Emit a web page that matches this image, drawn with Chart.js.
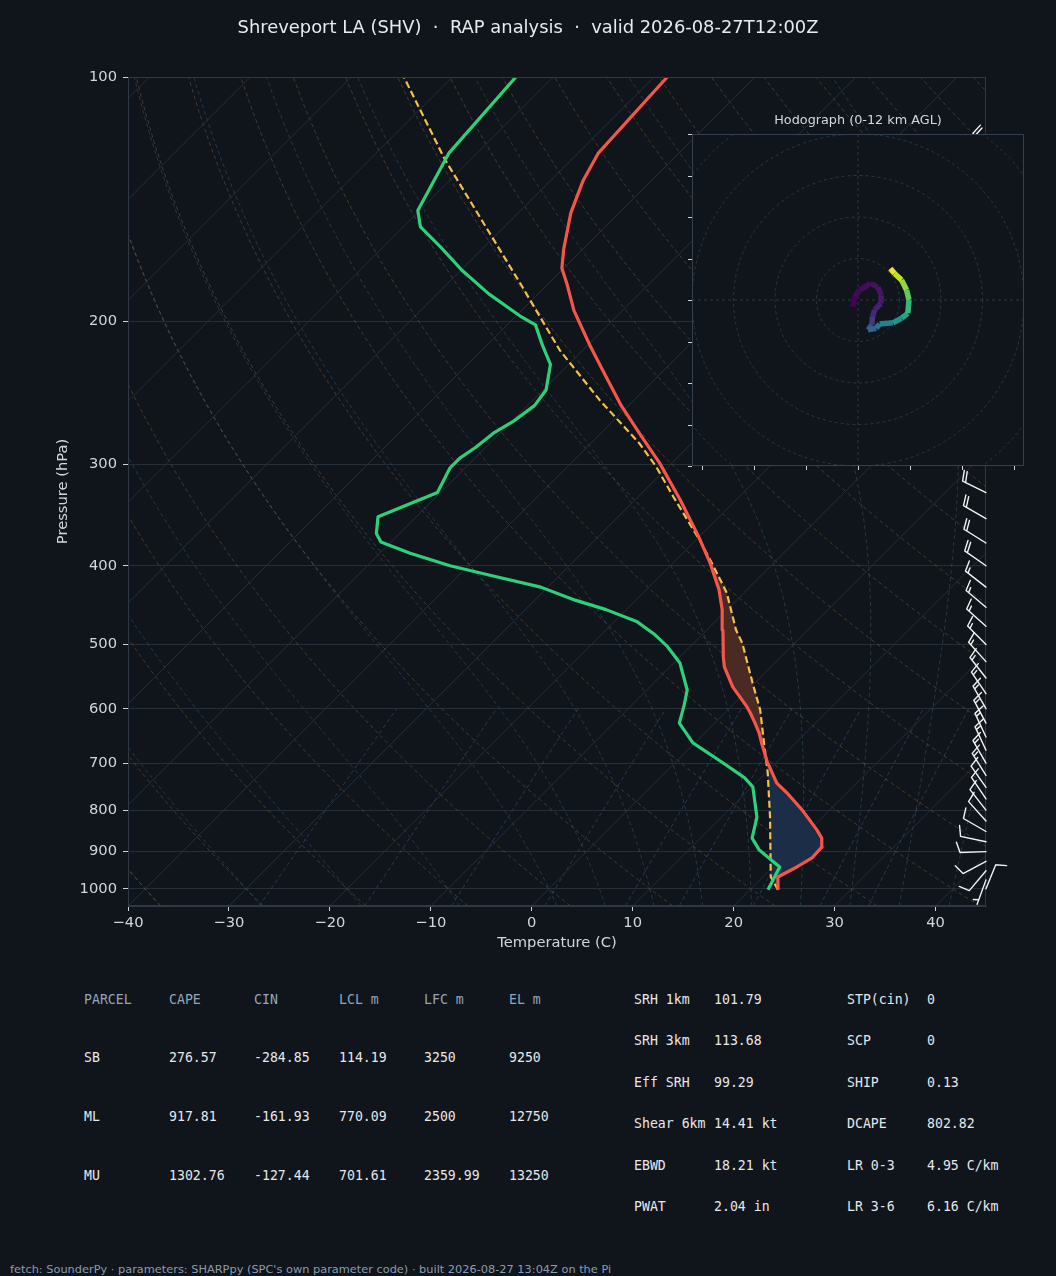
<!DOCTYPE html>
<html>
<head>
<meta charset="utf-8">
<title>Shreveport LA (SHV) sounding</title>
<script src="https://cdn.jsdelivr.net/npm/chart.js@4.4.1/dist/chart.umd.min.js"></script>
<style>
  html, body { margin: 0; padding: 0; background: #10141b; }
  #page { position: relative; width: 1056px; height: 1276px; overflow: hidden; background: #10141b; font-family: 'DejaVu Sans', sans-serif; }
  .txt { position: absolute; white-space: pre; line-height: 20px; height: 20px; }
  .mid { transform: translateX(-50%); }
  .mono { font-family: 'DejaVu Sans Mono', monospace; font-size: 13.2px; color: #e6e8eb; }
  .head { color: #93a6ba; }
  #skewWrap { position: absolute; left: 0; top: 0; width: 1056px; height: 960px; }
  #hodoWrap { position: absolute; left: 680px; top: 120px; width: 360px; height: 360px; }
</style>
</head>
<body>
<div id="page">
  <div id="skewWrap"><canvas id="skewt"></canvas></div>
  <div id="hodoWrap"><canvas id="hodo"></canvas></div>
  <div class="txt mid" style="left:528px; top:17px; font-size:17.9px; color:#e8ebee;">Shreveport LA (SHV)  ·  RAP analysis  ·  valid 2026-08-27T12:00Z</div>
  <div class="txt mid" style="left:858px; top:110px; font-size:12.8px; color:#d5d9de;">Hodograph (0-12 km AGL)</div>
  <div id="tables"></div>
  <div class="txt" style="left:10px; top:1259px; font-size:11.35px; color:#8c9cae;">fetch: SounderPy · parameters: SHARPpy (SPC's own parameter code) · built 2026-08-27 13:04Z on the Pi</div>
</div>
<script>
'use strict';

/* Section 1: data */

// environmental temperature (C) by pressure (hPa)
const tempP = [1003, 967, 940, 916, 888, 866, 846, 800, 762, 741, 708, 700, 661, 643, 625, 607, 597, 564, 533, 518, 480, 453, 428, 397, 368, 332, 299, 276, 254, 233, 214, 194, 180, 172, 163, 147, 134, 124, 100];
const tempC = [22.8, 21.5, 22.4, 23.0, 22.9, 22.0, 20.7, 17.3, 14.1, 12.1, 9.8, 9.2, 6.6, 5.4, 4.0, 2.5, 1.6, -1.8, -4.6, -5.7, -8.4, -10.5, -12.8, -16.3, -20.1, -25.5, -31.2, -35.9, -40.7, -45.3, -49.8, -54.8, -58.1, -60.2, -61.9, -64.8, -66.8, -68.0, -68.7];

// dewpoint (C)
const dewP = [1003, 940, 896, 866, 816, 749, 730, 700, 661, 625, 594, 569, 527, 502, 485, 469, 453, 441, 425, 411, 400, 386, 374, 365, 348, 325, 303, 295, 286, 274, 265, 254, 243, 226, 214, 202, 197, 185, 173, 162, 153, 146, 124, 100];
const dewC = [21.8, 20.7, 17.0, 15.1, 13.5, 10.1, 8.4, 4.8, -0.2, -3.5, -4.8, -6.0, -9.4, -12.4, -14.9, -17.7, -22.0, -26.0, -30.7, -36.9, -41.8, -47.0, -51.0, -52.3, -53.8, -50.3, -51.5, -51.5, -51.0, -50.6, -49.8, -49.3, -49.7, -51.8, -54.5, -57.2, -59.6, -64.9, -69.9, -74.3, -78.3, -80.2, -82.8, -83.7];

// surface parcel path (C)
const parcelP = [1003, 967, 816, 720, 674, 602, 558, 498, 480, 432, 401, 372, 329, 302, 283, 250, 217, 179, 126.5, 100];
const parcelC = [22.8, 20.8, 14.8, 10.2, 7.6, 3.2, -0.2, -5.2, -7.1, -11.7, -15.6, -19.6, -26.5, -31.2, -35.1, -43.4, -52.3, -63.0, -82.5, -94.8];

// shaded layers (hPa): CIN below the LFC, CAPE from LFC to EL
const cinLayer = [1003, 674];
const capeLayer = [674, 368];

// wind barbs
const windP = [1000, 975, 950, 925, 900, 875, 850, 825, 800, 775, 750, 725, 700, 675, 650, 625, 600, 575, 550, 525, 500, 475, 450, 425, 400, 375, 350, 325, 300, 275, 250, 225, 200, 175, 150, 125];
const windDir = [22, 200, 220, 242, 268, 282, 300, 318, 322, 326, 325, 328, 330, 335, 335, 332, 330, 326, 322, 318, 315, 312, 310, 308, 305, 302, 300, 296, 295, 290, 300, 310, 315, 320, 325, 330];
const windSpd = [10, 5, 10, 10, 10, 10, 10, 10, 10, 10, 10, 15, 15, 15, 15, 15, 15, 15, 15, 15, 15, 15, 15, 15, 20, 20, 20, 20, 20, 20, 20, 20, 20, 20, 20, 20];

// hodograph (u, v) and height km AGL
const hodoU = [-1.2, -0.8, 0.4, 3.0, 4.8, 5.6, 5.5, 4.0, 3.5, 3.3, 2.4, 4.4, 5.2, 8.4, 10.5, 12.0, 12.3, 11.7, 10.5, 8.8, 7.8];
const hodoV = [-1.6, 0.8, 2.4, 4.0, 3.1, 1.2, -0.8, -2.4, -4.0, -6.0, -7.2, -6.8, -5.8, -5.5, -4.4, -3.2, 0.0, 2.4, 4.8, 6.4, 7.6];
const hodoH = [0, 0.15, 0.3, 0.45, 0.6, 0.75, 0.9, 1.1, 1.5, 2.5, 3.5, 4.2, 4.8, 5.6, 6.5, 7.4, 8.4, 9.6, 10.5, 11.3, 12];

// axes and background lines
const pressureTicks = [100, 200, 300, 400, 500, 600, 700, 800, 900, 1000];
const tempTicks = [-40, -30, -20, -10, 0, 10, 20, 30, 40];
const isotherms = [-120, -110, -100, -90, -80, -70, -60, -50, -40, -30, -20, -10, 0, 10, 20, 30, 40];
const dryAdiabatStarts = [-40, -30, -20, -10, 0, 10, 20, 30, 40, 50, 60, 70, 80, 90, 100, 110, 120, 130, 140, 150, 160, 170, 180, 190, 200, 210, 220, 230, 240];
const moistAdiabatStarts = [-40, -30, -20, -10, 0, 5, 10, 15, 20, 25, 30, 35, 40, 45];
const mixingRatios = [0.0004, 0.001, 0.002, 0.004, 0.007, 0.01, 0.016, 0.024, 0.032];
const hodoRings = [10, 20, 30, 40, 50];
const hodoYTicks = [-40, -30, -20, -10, 0, 10, 20, 30, 40];
const hodoXTicks = [-37.5, -25, -12.5, 0, 12.5, 25, 37.5];

// parameter tables
const tableHead = ['PARCEL', 'CAPE', 'CIN', 'LCL m', 'LFC m', 'EL m'];
const parcelRows = [
    ['SB', '276.57', '-284.85', '114.19', '3250', '9250'],
    ['ML', '917.81', '-161.93', '770.09', '2500', '12750'],
    ['MU', '1302.76', '-127.44', '701.61', '2359.99', '13250']
];
const kinematicRows = [['SRH 1km', '101.79'], ['SRH 3km', '113.68'], ['Eff SRH', '99.29'], ['Shear 6km', '14.41 kt'], ['EBWD', '18.21 kt'], ['PWAT', '2.04 in']];
const compositeRows = [['STP(cin)', '0'], ['SCP', '0'], ['SHIP', '0.13'], ['DCAPE', '802.82'], ['LR 0-3', '4.95 C/km'], ['LR 3-6', '6.16 C/km']];


/* Section 2: helpers */

const BG = '#10141b';
const P_BOT = 1050, P_TOP = 100, T_MIN = -40, T_MAX = 45;
const PLOT_W = 858, PLOT_H = 829;
// 45 degree isotherms on the plot
const SKEW = (PLOT_H / Math.log(P_BOT / P_TOP)) / (PLOT_W / (T_MAX - T_MIN));
const RD = 287.04749, LV = 2.50084e6, CPD = 1004.6662, EPS = 0.621957;

const skewX = (t, p) => t + SKEW * Math.log(P_BOT / p);

function profile(pArr, tArr) {
    return pArr.map((p, i) => ({x: skewX(tArr[i], p), y: p}));
}

function tempAt(pArr, tArr, p) {
    for (let i = 0; i < pArr.length - 1; i++) {
        if (p <= pArr[i] && p >= pArr[i + 1]) {
            const f = Math.log(pArr[i] / p) / Math.log(pArr[i] / pArr[i + 1]);
            return tArr[i] + f * (tArr[i + 1] - tArr[i]);
        }
    }
    return tArr[tArr.length - 1];
}

// closed outline between two profiles over a pressure layer
function layerShape(pA, tA, pB, tB, layer) {
    const [pLow, pHigh] = layer;
    const side = (pArr, tArr) => {
        const pts = [{p: pLow, t: tempAt(pArr, tArr, pLow)}];
        pArr.forEach((p, i) => { if (p < pLow && p > pHigh) pts.push({p, t: tArr[i]}); });
        pts.push({p: pHigh, t: tempAt(pArr, tArr, pHigh)});
        return pts;
    };
    return side(pA, tA).concat(side(pB, tB).reverse()).map(o => ({x: skewX(o.t, o.p), y: o.p}));
}

function dryAdiabat(t0) {
    const pts = [];
    for (let p = P_BOT; p >= P_TOP; p -= 10) {
        const t = (t0 + 273.15) * Math.pow(p / 1000, RD / CPD) - 273.15;
        pts.push({x: skewX(t, p), y: p});
    }
    return pts;
}

function moistRate(p, tK) {
    const es = 6.112 * Math.exp(17.67 * (tK - 273.15) / (tK - 29.65));
    const rs = EPS * es / (p - es);
    return (RD * tK + LV * rs) / (CPD + LV * LV * rs * EPS / (RD * tK * tK)) / p;
}

function moistAdiabat(t0) {
    const step = (p, t, h) => {
        const k1 = moistRate(p, t);
        const k2 = moistRate(p + h / 2, t + h * k1 / 2);
        const k3 = moistRate(p + h / 2, t + h * k2 / 2);
        const k4 = moistRate(p + h, t + h * k3);
        return t + h * (k1 + 2 * k2 + 2 * k3 + k4) / 6;
    };
    let t = t0 + 273.15;
    for (let p = 1000; p < P_BOT; p += 5) t = step(p, t, 5);
    const pts = [];
    for (let p = P_BOT; p >= P_TOP; p -= 5) {
        pts.push({x: skewX(t - 273.15, p), y: p});
        t = step(p, t, -5);
    }
    return pts;
}

function mixingLine(w) {
    const pts = [];
    for (let p = P_BOT; p >= 600; p -= 25) {
        const e = w * p / (EPS + w);
        const l = Math.log(e / 6.112);
        pts.push({x: skewX(243.5 * l / (17.67 - l), p), y: p});
    }
    return pts;
}

function guide(points, color, dash) {
    return {data: points, borderColor: color, borderWidth: 1, borderDash: dash,
            pointRadius: 0, fill: false, order: 10};
}

const VIRIDIS = ['#440154', '#482475', '#414487', '#355f8d', '#2a788e', '#21918c', '#22a884', '#44bf70', '#7ad151', '#bddf26', '#fde725'];
function viridis(f) {
    f = Math.min(1, Math.max(0, f)) * (VIRIDIS.length - 1);
    const i = Math.min(Math.floor(f), VIRIDIS.length - 2), r = f - i;
    const a = VIRIDIS[i], b = VIRIDIS[i + 1];
    const ch = (h, k) => parseInt(h.substr(1 + 2 * k, 2), 16);
    const mix = k => Math.round(ch(a, k) + r * (ch(b, k) - ch(a, k)));
    return `rgb(${mix(0)},${mix(1)},${mix(2)})`;
}


/* Section 3: skew-T chart */

Chart.defaults.font.family = "'DejaVu Sans', sans-serif";
Chart.defaults.color = '#d2d7dc';

const datasets = [];
isotherms.forEach(t => datasets.push(guide([{x: skewX(t, P_BOT), y: P_BOT}, {x: skewX(t, P_TOP), y: P_TOP}], '#262e38', [])));
dryAdiabatStarts.forEach(t => datasets.push(guide(dryAdiabat(t), 'rgba(196,146,86,0.30)', [4, 3])));
moistAdiabatStarts.forEach(t => datasets.push(guide(moistAdiabat(t), 'rgba(84,146,172,0.30)', [4, 3])));
mixingRatios.forEach(w => datasets.push(guide(mixingLine(w), 'rgba(86,128,186,0.35)', [4, 3])));

datasets.push({data: layerShape(tempP, tempC, parcelP, parcelC, cinLayer), fill: 'shape',
               backgroundColor: '#1c2d48', borderWidth: 0, pointRadius: 0, order: 5});
datasets.push({data: layerShape(parcelP, parcelC, tempP, tempC, capeLayer), fill: 'shape',
               backgroundColor: '#4a2b24', borderWidth: 0, pointRadius: 0, order: 5});

datasets.push({label: 'parcel', data: profile(parcelP, parcelC), borderColor: '#f4c04b', borderWidth: 2.2,
               borderDash: [7, 3.5], pointRadius: 0, fill: false, order: 2});
datasets.push({label: 'dewpoint', data: profile(dewP, dewC), borderColor: '#2fd07a', borderWidth: 3.2,
               pointRadius: 0, fill: false, order: 1, borderJoinStyle: 'round'});
datasets.push({label: 'temperature', data: profile(tempP, tempC), borderColor: '#f4564a', borderWidth: 3.2,
               pointRadius: 0, fill: false, order: 0, borderJoinStyle: 'round'});

// frame on all four sides plus wind barbs at the right edge
const skewExtras = {
    id: 'skewExtras',
    afterDatasetsDraw(chart) {
        const {ctx, chartArea: a, scales: {y}} = chart;
        ctx.save();
        ctx.strokeStyle = '#2f3946';
        ctx.lineWidth = 1;
        ctx.strokeRect(a.left + 0.5, a.top + 0.5, a.right - a.left - 1, a.bottom - a.top - 1);

        const L = 26, spacing = 0.125 * L, h = 0.4 * L, w = 0.25 * L;
        ctx.strokeStyle = '#f2f3f4';
        ctx.lineWidth = 1.4;
        ctx.lineCap = 'round';
        windP.forEach((p, i) => {
            const x0 = a.right, y0 = y.getPixelForValue(p);
            const d = windDir[i] * Math.PI / 180;
            const sx = Math.sin(d), sy = -Math.cos(d);
            const nx = -sy, ny = sx;
            const spd = Math.round(windSpd[i] / 5) * 5;
            const full = Math.floor(spd / 10);
            const half = spd - full * 10 >= 5;
            ctx.beginPath();
            ctx.moveTo(x0, y0);
            ctx.lineTo(x0 + sx * L, y0 + sy * L);
            let off = L;
            for (let k = 0; k < full; k++) {
                ctx.moveTo(x0 + sx * off, y0 + sy * off);
                ctx.lineTo(x0 + sx * (off + w / 2) + nx * h, y0 + sy * (off + w / 2) + ny * h);
                off -= spacing;
            }
            if (half) {
                if (off === L) off -= 1.5 * spacing;
                ctx.moveTo(x0 + sx * off, y0 + sy * off);
                ctx.lineTo(x0 + sx * (off + w / 4) + nx * h / 2, y0 + sy * (off + w / 4) + ny * h / 2);
            }
            ctx.stroke();
        });
        ctx.restore();
    }
};

new Chart(document.getElementById('skewt'), {
    type: 'line',
    data: {datasets},
    options: {
        animation: false,
        responsive: true,
        maintainAspectRatio: false,
        events: [],
        layout: {padding: {left: 0, right: 70, top: 77, bottom: 0}},
        scales: {
            x: {
                type: 'linear',
                min: T_MIN,
                max: T_MAX,
                afterBuildTicks: scale => { scale.ticks = tempTicks.map(v => ({value: v})); },
                afterFit: scale => { scale.height = 54; },
                grid: {drawOnChartArea: false, drawTicks: true, tickLength: 5, tickColor: '#cfd4da'},
                border: {display: true, color: '#2f3946'},
                ticks: {
                    padding: 3,
                    color: '#d2d7dc',
                    font: {size: 14.7},
                    callback: v => String(v).replace('-', '\u2212')
                },
                title: {display: true, text: 'Temperature (C)', color: '#d2d7dc',
                        font: {size: 14.7}, padding: {top: 0, bottom: 8}}
            },
            y: {
                type: 'logarithmic',
                min: P_TOP,
                max: P_BOT,
                reverse: true,
                afterBuildTicks: scale => { scale.ticks = pressureTicks.map(v => ({value: v})); },
                afterFit: scale => { scale.width = 128; },
                grid: {color: '#262e38', drawTicks: true, tickLength: 5, tickColor: '#cfd4da'},
                border: {display: true, color: '#2f3946'},
                ticks: {
                    padding: 6,
                    color: '#d2d7dc',
                    font: {size: 14.7},
                    callback: v => String(v)
                },
                title: {display: true, text: 'Pressure (hPa)', color: '#d2d7dc',
                        font: {size: 14.7}, padding: {top: 54, bottom: 0}}
            }
        },
        plugins: {
            legend: {display: false},
            tooltip: {enabled: false}
        }
    },
    plugins: [skewExtras]
});


/* Section 4: hodograph inset */

const hodoFurniture = {
    id: 'hodoFurniture',
    beforeDatasetsDraw(chart) {
        const {ctx, chartArea: a, scales: {x, y}} = chart;
        ctx.save();
        ctx.fillStyle = BG;
        ctx.fillRect(a.left, a.top, a.right - a.left, a.bottom - a.top);
        ctx.beginPath();
        ctx.rect(a.left, a.top, a.right - a.left, a.bottom - a.top);
        ctx.clip();
        ctx.strokeStyle = '#2c3743';
        ctx.lineWidth = 1;
        ctx.setLineDash([3, 3]);
        const cx = x.getPixelForValue(0), cy = y.getPixelForValue(0);
        hodoRings.forEach(r => {
            ctx.beginPath();
            ctx.arc(cx, cy, x.getPixelForValue(r) - cx, 0, 2 * Math.PI);
            ctx.stroke();
        });
        ctx.beginPath();
        ctx.moveTo(a.left, cy); ctx.lineTo(a.right, cy);
        ctx.moveTo(cx, a.top); ctx.lineTo(cx, a.bottom);
        ctx.stroke();
        ctx.restore();
    },
    afterDatasetsDraw(chart) {
        const {ctx, chartArea: a, scales: {x, y}} = chart;
        ctx.save();
        ctx.strokeStyle = '#34404d';
        ctx.lineWidth = 1;
        ctx.strokeRect(a.left + 0.5, a.top + 0.5, a.right - a.left - 1, a.bottom - a.top - 1);
        ctx.strokeStyle = '#cfd4da';
        ctx.beginPath();
        hodoYTicks.forEach(v => {
            const py = Math.round(y.getPixelForValue(v)) + 0.5;
            ctx.moveTo(a.left - 4, py); ctx.lineTo(a.left, py);
        });
        hodoXTicks.forEach(v => {
            const px = Math.round(x.getPixelForValue(v)) + 0.5;
            ctx.moveTo(px, a.bottom); ctx.lineTo(px, a.bottom + 4);
        });
        ctx.stroke();
        ctx.restore();
    }
};

new Chart(document.getElementById('hodo'), {
    type: 'line',
    data: {
        datasets: [{
            data: hodoU.map((u, i) => ({x: u, y: hodoV[i]})),
            borderWidth: 5.5,
            borderColor: viridis(0),
            pointRadius: 0,
            fill: false,
            segment: {
                borderColor: c => viridis((hodoH[c.p0DataIndex] + hodoH[c.p1DataIndex]) / 24)
            }
        }]
    },
    options: {
        animation: false,
        responsive: true,
        maintainAspectRatio: false,
        events: [],
        layout: {padding: {left: 12, top: 14, right: 16, bottom: 14}},
        scales: {
            x: {type: 'linear', min: -40, max: 40, display: false},
            y: {type: 'linear', min: -40, max: 40, display: false}
        },
        plugins: {
            legend: {display: false},
            tooltip: {enabled: false}
        }
    },
    plugins: [hodoFurniture]
});


/* Section 5: parameter tables */

const tables = document.getElementById('tables');

function addText(str, x, y, cls) {
    const el = document.createElement('div');
    el.className = 'txt mono ' + (cls || '');
    el.style.left = x + 'px';
    el.style.top = (y - 10) + 'px';
    el.textContent = str;
    tables.appendChild(el);
}

const colX = [84, 169, 254, 339, 424, 509];
const rowY = [1000, 1058, 1117, 1176];
tableHead.forEach((s, i) => addText(s, colX[i], rowY[0], 'head'));
parcelRows.forEach((row, r) => row.forEach((s, i) => addText(s, colX[i], rowY[r + 1])));

kinematicRows.forEach((row, r) => {
    addText(row[0], 634, 1000 + r * 41.4);
    addText(row[1], 714, 1000 + r * 41.4);
});
compositeRows.forEach((row, r) => {
    addText(row[0], 847, 1000 + r * 41.4);
    addText(row[1], 927, 1000 + r * 41.4);
});
</script>
</body>
</html>
